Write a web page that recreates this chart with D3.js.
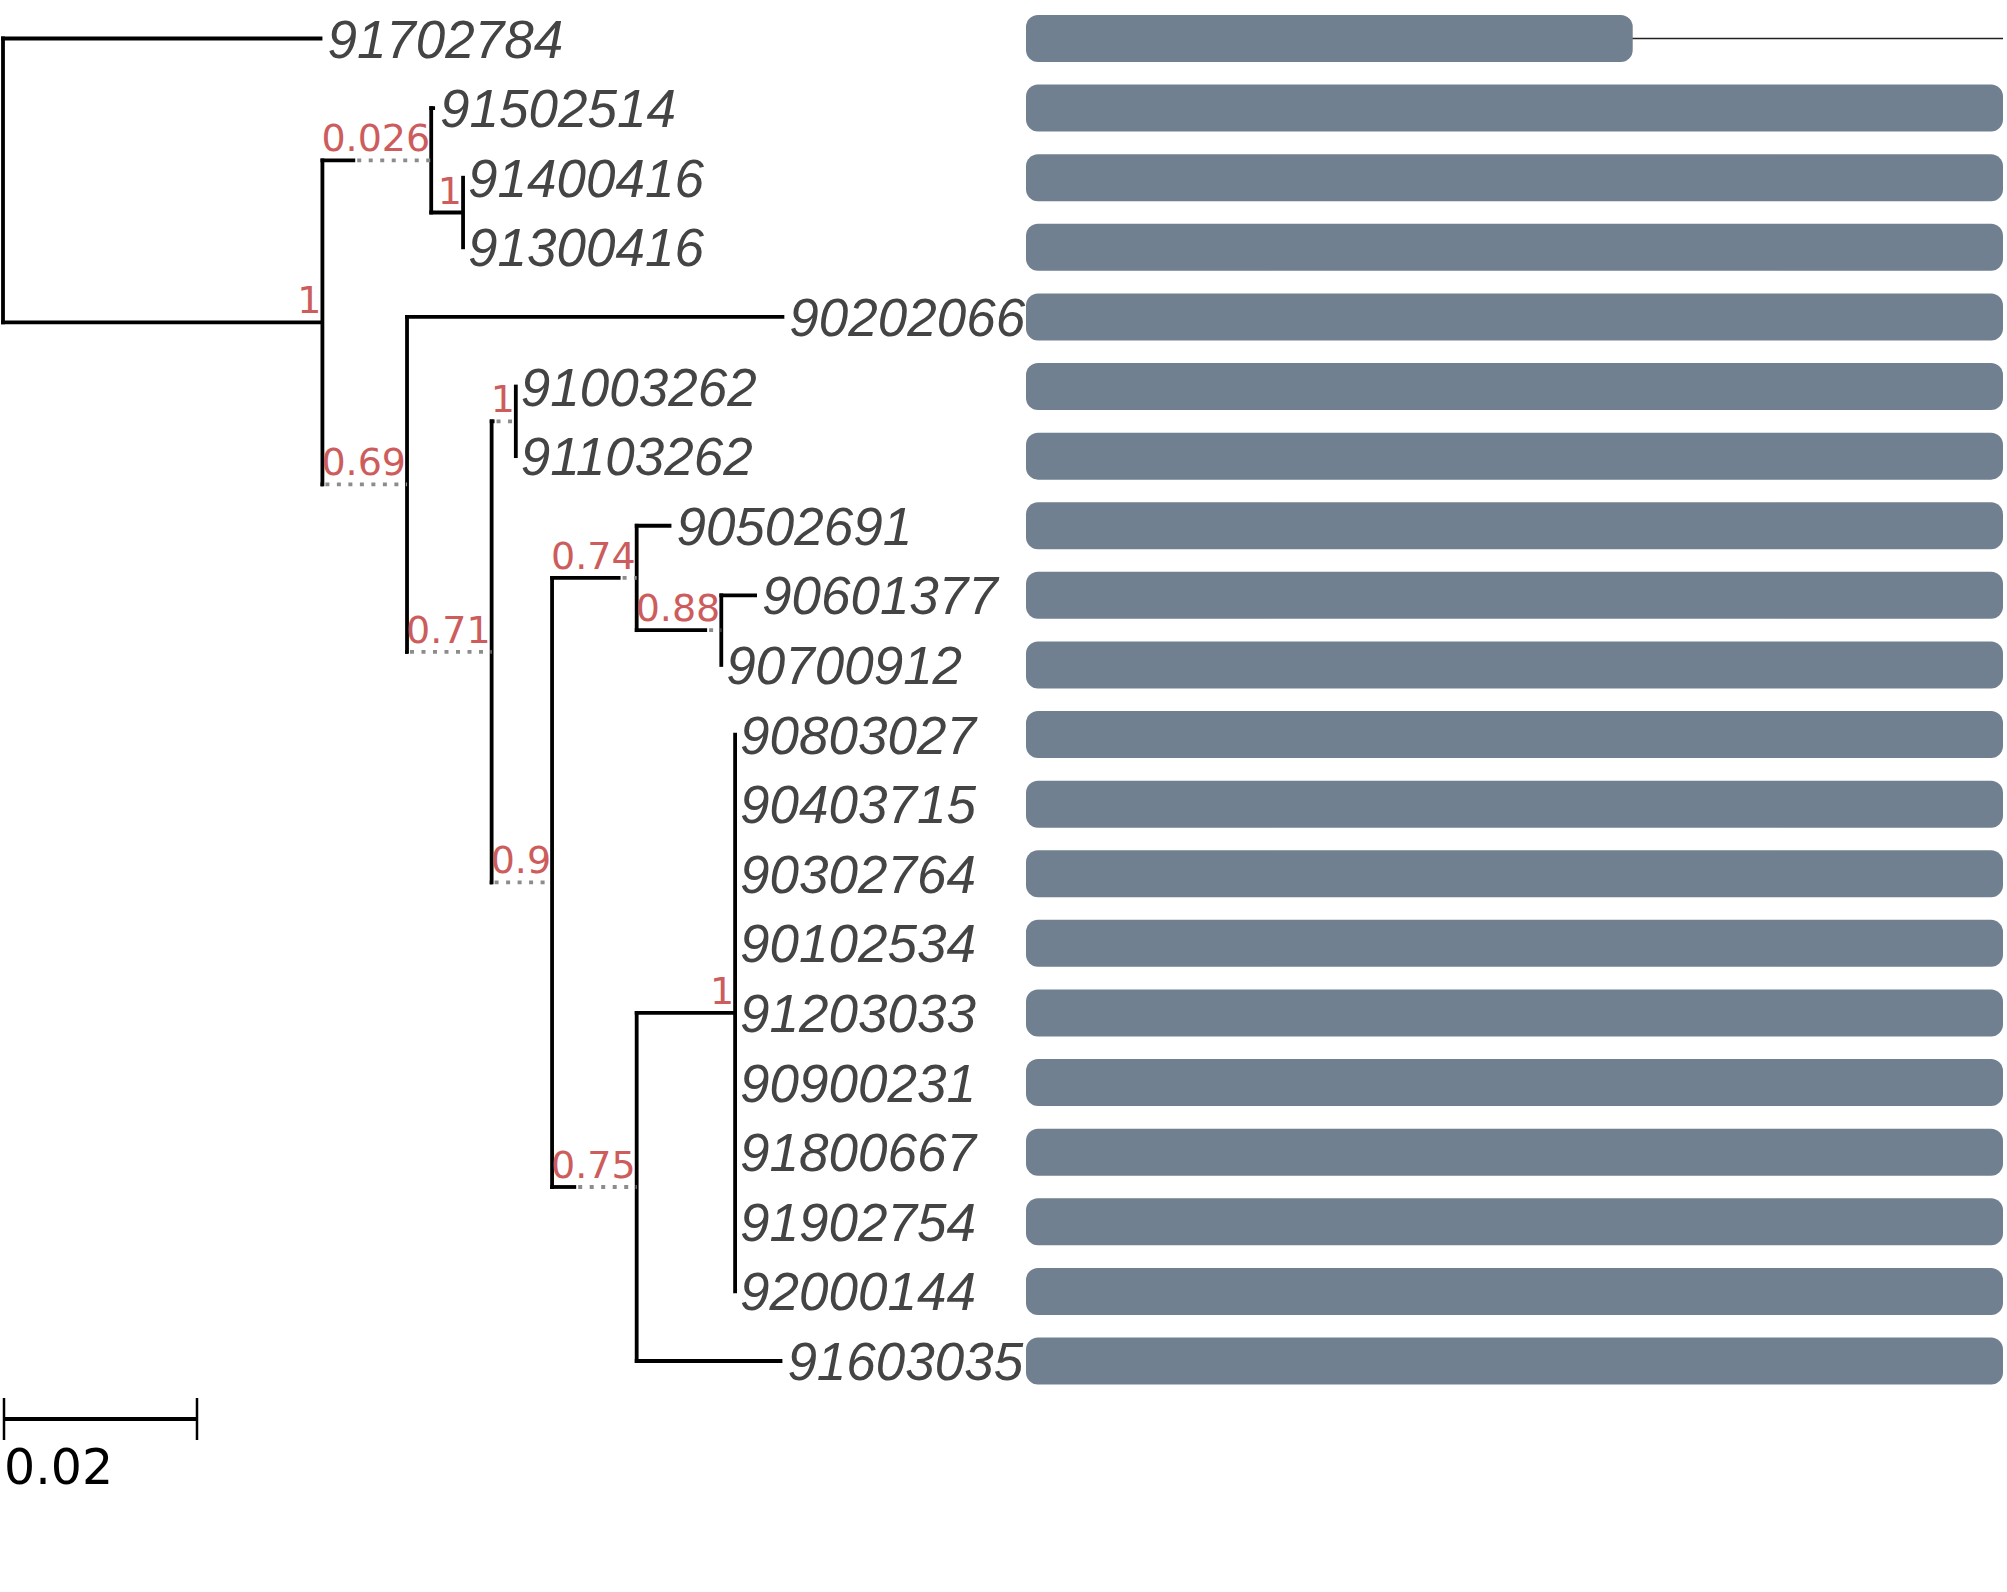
<!DOCTYPE html>
<html>
<head>
<meta charset="utf-8">
<script src="https://cdn.jsdelivr.net/npm/d3@7/dist/d3.min.js"></script>
<style>
  html, body { margin: 0; padding: 0; background: #fff; }
  svg { display: block; }
</style>
</head>
<body>
<svg id="chart" width="2007" height="1592"></svg>
<script>
// ---------------- DATA ----------------
// Tree nodes (id, parent, branch length, support)
const nodeIds = ["root","91702784","A","B","91502514","C","91400416","91300416",
  "D","90202066","E","F","91003262","91103262","G","H","90502691","I","90601377","90700912",
  "J","K","90803027","90403715","90302764","90102534","91203033","90900231","91800667",
  "91902754","92000144","91603035"];
const parentIds = ["","root","root","A","B","B","C","C",
  "A","D","D","E","F","F","E","G","H","H","I","I",
  "G","J","K","K","K","K","K","K","K",
  "K","K","J"];
const branchLengths = [0,0.0331,0.0331,0.0034,0.0004,0.0033,0,0,
  0.0001,0.0391,0.0001,0.0003,0,0,0.0001,0.0071,0.0036,0.0073,0.0037,0,
  0.0025,0.0102,0,0,0,0,0,0,0,
  0,0,0.0151];
const supports = [null,null,1,0.026,null,1,null,null,
  0.69,null,0.71,1,null,null,0.9,0.74,null,0.88,null,null,
  0.75,1,null,null,null,null,null,null,null,
  null,null,null];
// Leaf order (top to bottom)
const leafNames = ["91702784","91502514","91400416","91300416","90202066","91003262",
  "91103262","90502691","90601377","90700912","90803027","90403715","90302764",
  "90102534","91203033","90900231","91800667","91902754","92000144","91603035"];
// Bar values (fraction of full sequence length) per leaf
const barValues = [0.621,1,1,1,1,1,1,1,1,1,1,1,1,1,1,1,1,1,1,1];
const scaleBarValue = 0.02;

// ---------------- SETUP ----------------
const svg = d3.select("#chart");
const treeX0 = 3;
const xTree = d3.scaleLinear().domain([0, 0.02]).range([0, 193]);
const yRow = d3.scalePoint().domain(leafNames).range([38.5, 1361]);
const xBar = d3.scaleLinear().domain([0, 1]).range([1026, 2003]);

const supportFont = "38px 'DejaVu Sans'";
const leafFont = "italic 53px 'Liberation Sans'";
const lineW = 3.8;

// text measurement
const measure = svg.append("text").style("font", supportFont).attr("visibility","hidden");
function textW(s){ measure.text(s); return measure.node().getComputedTextLength(); }

const table = nodeIds.map((id,i)=>({id, parent: parentIds[i], bl: branchLengths[i], support: supports[i]}));
const root = d3.stratify().id(d=>d.id).parentId(d=>d.parent || null)(table);

// x positions (branch extended with a dotted line when support label is wider)
root.each(n=>{
  if(!n.parent){ n.x = treeX0; n.solidEnd = treeX0; return; }
  const solid = xTree(n.data.bl);
  const lw = n.data.support != null ? textW(String(n.data.support)) : 0;
  n.solidEnd = n.parent.x + solid;
  n.x = n.parent.x + Math.max(solid, lw);
});
measure.remove();
// y positions
root.eachAfter(n=>{
  if(!n.children) n.y = yRow(n.data.id);
  else n.y = (n.children[0].y + n.children[n.children.length-1].y)/2;
});

const g = svg.append("g");

// vertical lines
g.selectAll("line.v").data(root.descendants().filter(n=>n.children)).join("line")
  .attr("class","v")
  .attr("x1", d=>d.x).attr("x2", d=>d.x)
  .attr("y1", d=>d.children[0].y - lineW/2).attr("y2", d=>d.children[d.children.length-1].y + lineW/2)
  .attr("stroke","#000").attr("stroke-width",lineW);

const links = root.descendants().filter(n=>n.parent);
// solid horizontal
g.selectAll("line.h").data(links.filter(n=>n.solidEnd > n.parent.x + 0.01)).join("line")
  .attr("class","h")
  .attr("x1", d=>d.parent.x - lineW/2).attr("x2", d=>d.solidEnd)
  .attr("y1", d=>d.y).attr("y2", d=>d.y)
  .attr("stroke","#000").attr("stroke-width",lineW);
// dotted extension
g.selectAll("line.d").data(links.filter(n=>n.x - n.solidEnd > 1)).join("line")
  .attr("class","d")
  .attr("x1", d=>d.solidEnd + 2).attr("x2", d=>d.x)
  .attr("y1", d=>d.y).attr("y2", d=>d.y)
  .attr("stroke","#8c8c8c").attr("stroke-width",3.8)
  .attr("stroke-dasharray","4 7.5");

// support labels
g.selectAll("text.sup").data(links.filter(n=>n.data.support != null)).join("text")
  .attr("class","sup")
  .attr("x", d=>d.x - 1).attr("y", d=>d.y - 9)
  .attr("text-anchor","end")
  .style("font", supportFont).attr("fill","#cd5c5c")
  .text(d=>String(d.data.support));

// leaf labels
const leaves = root.leaves();
g.selectAll("text.leaf").data(leaves).join("text")
  .attr("class","leaf")
  .attr("x", d=>d.x + 5).attr("y", d=>d.y + 19)
  .style("font", leafFont).attr("fill","#444444")
  .text(d=>d.data.id);

// bars
const barData = leafNames.map((name,i)=>({name, v: barValues[i]}));
const bars = svg.append("g");
bars.selectAll("line.full").data(barData.filter(d=>d.v < 1)).join("line")
  .attr("x1", d=>xBar(d.v) - 5).attr("x2", xBar(1))
  .attr("y1", d=>yRow(d.name)).attr("y2", d=>yRow(d.name))
  .attr("stroke","#222").attr("stroke-width",1.6);
bars.selectAll("rect").data(barData).join("rect")
  .attr("x", xBar(0)).attr("width", d=>xBar(d.v) - xBar(0))
  .attr("y", d=>yRow(d.name) - 23.5).attr("height", 47)
  .attr("rx", 12).attr("ry", 12)
  .attr("fill","#708090");

// scale bar
const sb = svg.append("g");
const sbY = 1419, sbX0 = 4, sbX1 = 4 + xTree(scaleBarValue);
sb.append("line").attr("x1",sbX0).attr("x2",sbX1).attr("y1",sbY).attr("y2",sbY)
  .attr("stroke","#000").attr("stroke-width",3.8);
[sbX0, sbX1].forEach(x=>{
  sb.append("line").attr("x1",x).attr("x2",x).attr("y1",sbY-21).attr("y2",sbY+21)
    .attr("stroke","#000").attr("stroke-width",2.5);
});
sb.append("text").attr("x",4).attr("y",1484)
  .style("font","49px 'DejaVu Sans'").attr("fill","#000")
  .text(String(scaleBarValue));
</script>
</body>
</html>
